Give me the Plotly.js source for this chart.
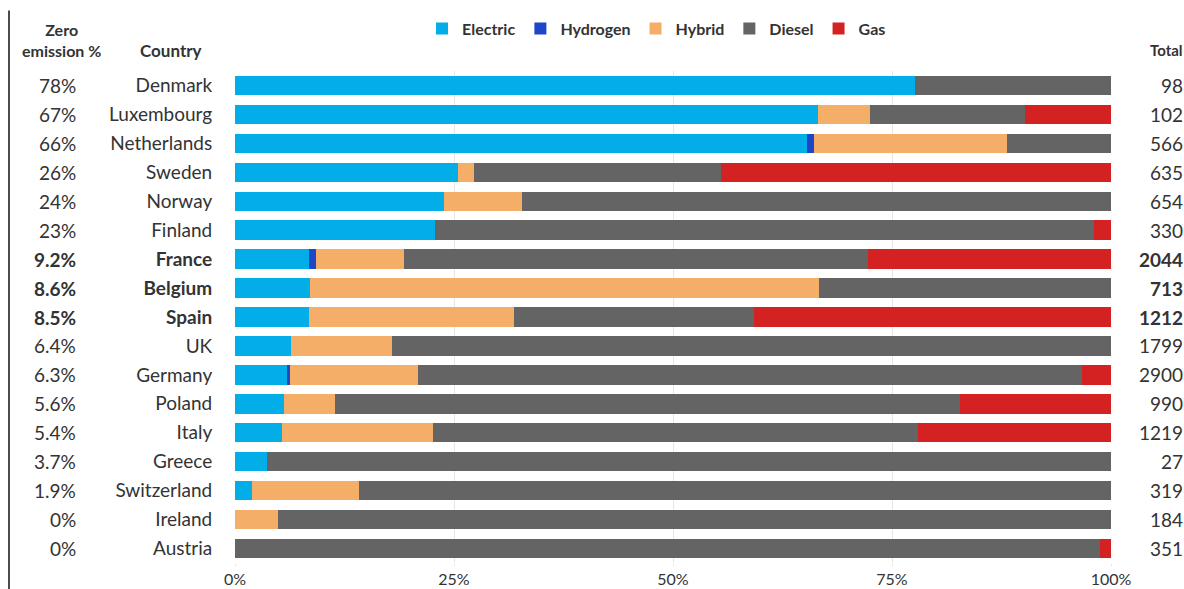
<!DOCTYPE html>
<html>
<head>
<meta charset="utf-8">
<script src="https://cdn.plot.ly/plotly-3.0.1.min.js"></script>
<style>html,body{margin:0;padding:0;background:#fff;}#chart{width:1184px;height:589px;}</style>
</head>
<body>
<div id="chart"></div>
<script>
const countries = ["Denmark","Luxembourg","Netherlands","Sweden","Norway","Finland","France","Belgium","Spain","UK","Germany","Poland","Italy","Greece","Switzerland","Ireland","Austria"];
const boldCountries = ["France","Belgium","Spain"];
const zeroEmission = ["78%","67%","66%","26%","24%","23%","9.2%","8.6%","8.5%","6.4%","6.3%","5.6%","5.4%","3.7%","1.9%","0%","0%"];
const totals = [98,102,566,635,654,330,2044,713,1212,1799,2900,990,1219,27,319,184,351];
const electric = [77.6,66.6,65.3,25.5,23.9,22.8,8.4,8.6,8.5,6.4,5.9,5.6,5.4,3.7,1.9,0,0];
const hydrogen = [0,0,0.8,0,0,0,0.8,0,0,0,0.4,0,0,0,0,0,0];
const hybrid   = [0,5.9,22.0,1.8,8.9,0,10.1,58.1,23.4,11.5,14.6,5.8,17.2,0,12.2,4.9,0];
const diesel   = [22.4,17.7,11.9,28.2,67.2,75.3,53.0,33.3,27.4,82.1,75.8,71.4,55.4,96.3,85.9,95.1,98.8];
const gas      = [0,9.8,0,44.5,0,1.9,27.7,0,40.7,0,3.3,17.2,22.0,0,0,0,1.2];

const seriesNames = ["Electric","Hydrogen","Hybrid","Diesel","Gas"];
const seriesValues = [electric, hydrogen, hybrid, diesel, gas];
const seriesColors = ["#03aee8","#1d47c9","#f5ae68","#646464","#d42222"];

const FONT = "Lato, 'Open Sans', sans-serif";
const TXT = "#333333";

const traces = seriesNames.map((n,i)=>({
  type:"bar", orientation:"h", name:n,
  y: countries, x: seriesValues[i],
  marker:{color:seriesColors[i], line:{width:0}},
  hoverinfo:"x+y+name"
}));

const isBold = c => boldCountries.indexOf(c) >= 0;
const annotations = [];
countries.forEach((c,i)=>{
  annotations.push({xref:"paper", yref:"y", x:(78-235)/876, y:c, xanchor:"right", yanchor:"middle",
    text: isBold(c) ? "<b>"+zeroEmission[i]+"</b>" : zeroEmission[i], showarrow:false,
    font:{family:FONT, size:19, color:TXT}});
  annotations.push({xref:"paper", yref:"y", x:(1185-235)/876, y:c, xanchor:"right", yanchor:"middle",
    text: isBold(c) ? "<b>"+totals[i]+"</b>" : String(totals[i]), showarrow:false,
    font:{family:FONT, size:19, color:TXT}});
});
annotations.push({xref:"paper", yref:"paper", x:(61-235)/876, y:(563.5-40)/492, xanchor:"center", yanchor:"middle",
  text:"<b>Zero<br>emission %</b>", showarrow:false, align:"center",
  font:{family:FONT, size:16, color:TXT}});
annotations.push({xref:"paper", yref:"paper", x:(171-235)/876, y:(563.5-51)/492, xanchor:"center", yanchor:"middle",
  text:"<b>Country</b>", showarrow:false, font:{family:FONT, size:17, color:TXT}});
annotations.push({xref:"paper", yref:"paper", x:(1185-235)/876, y:(563.5-51)/492, xanchor:"right", yanchor:"middle",
  text:"<b>Total</b>", showarrow:false, font:{family:FONT, size:15, color:TXT}});

const layout = {
  width:1184, height:589,
  margin:{l:235, r:73, t:71, b:26},
  barmode:"stack", bargap:0.33,
  paper_bgcolor:"#ffffff", plot_bgcolor:"#ffffff",
  font:{family:FONT, color:TXT},
  showlegend:true,
  legend:{orientation:"h", x:(422-235)/876, xanchor:"left", y:(563.5-29)/492, yanchor:"middle",
    font:{family:FONT, size:16, color:TXT, weight:"bold"}, traceorder:"normal", itemclick:false, bgcolor:"rgba(0,0,0,0)"},
  xaxis:{range:[0,100], tickvals:[0,25,50,75,100], ticktext:["0%","25%","50%","75%","100%"],
    showgrid:true, gridcolor:"#e6e6e6", gridwidth:1, zeroline:false, showline:false,
    ticks:"outside", ticklen:2, tickcolor:"#e6e6e6",
    tickfont:{family:FONT, size:16, color:TXT}, fixedrange:true},
  yaxis:{type:"category", autorange:"reversed", categoryorder:"array", categoryarray:countries,
    tickvals:countries, ticktext:countries.map(c=> isBold(c) ? "<b>"+c+"</b>" : c),
    ticks:"outside", ticklen:18, tickcolor:"rgba(0,0,0,0)", showgrid:false, zeroline:false, showline:false,
    tickfont:{family:FONT, size:19, color:TXT}, fixedrange:true},
  shapes:[{type:"line", xref:"paper", yref:"paper", x0:(9-235)/876, x1:(9-235)/876,
    y0:(563.5-11)/492, y1:-0.1, line:{color:"#111111", width:1.5}}],
  annotations: annotations
};

Plotly.newPlot("chart", traces, layout, {displayModeBar:false, staticPlot:false});
</script>
</body>
</html>
